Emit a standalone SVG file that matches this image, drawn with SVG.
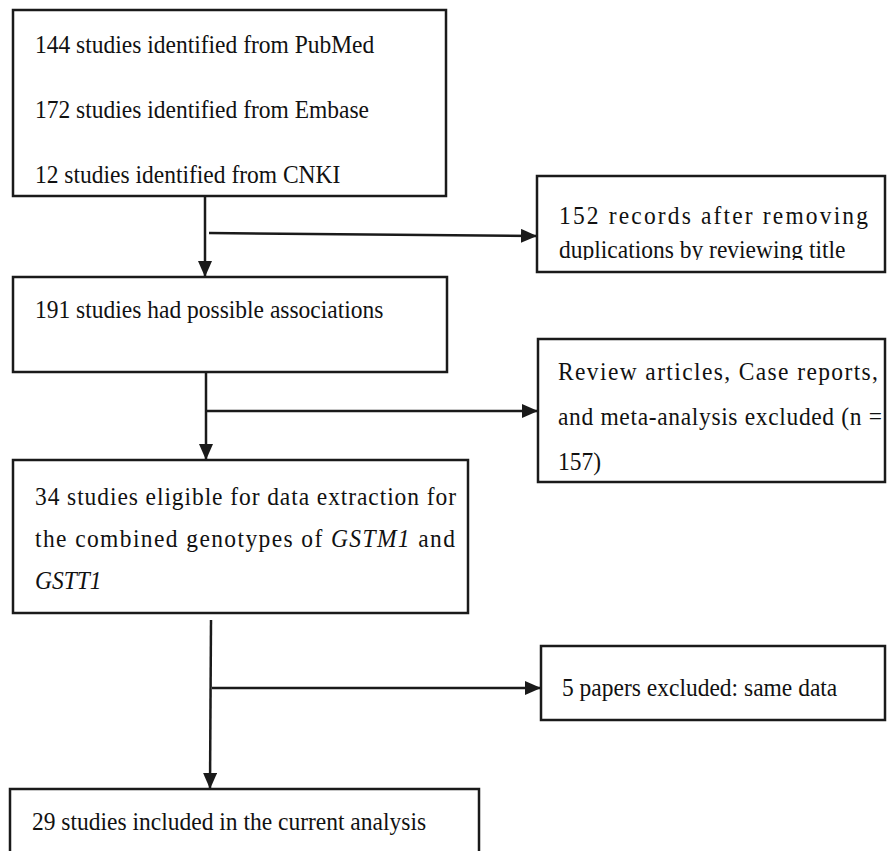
<svg xmlns="http://www.w3.org/2000/svg" width="887" height="851" viewBox="0 0 887 851">
<style>
.box{fill:#fff;stroke:#1a1a1a;stroke-width:2.5}
.t{font-family:"Liberation Serif","Times New Roman",serif;font-size:23.5px;fill:#111}
.c{stroke:#1a1a1a;stroke-width:2.5;fill:none}
</style>
<defs>
<marker id="ah" markerUnits="userSpaceOnUse" markerWidth="16" markerHeight="14" refX="16" refY="7" orient="auto">
<path d="M0,0 L16,7 L0,14 Z" fill="#1a1a1a"/>
</marker>
<clipPath id="clipB"><rect x="537" y="176" width="350" height="84"/></clipPath>
</defs>
<rect width="887" height="851" fill="#fff"/>
<g id="connectors">
<line class="c" x1="205" y1="196" x2="205" y2="277" marker-end="url(#ah)"/>
<line class="c" x1="209" y1="233" x2="537" y2="236" marker-end="url(#ah)"/>
<line class="c" x1="206" y1="372" x2="206" y2="460" marker-end="url(#ah)"/>
<line class="c" x1="207" y1="411" x2="538" y2="411" marker-end="url(#ah)"/>
<line class="c" x1="211" y1="620" x2="210" y2="789" marker-end="url(#ah)"/>
<line class="c" x1="212" y1="688" x2="541" y2="688" marker-end="url(#ah)"/>
</g>
<g id="node-sources">
<rect class="box" x="13" y="10" width="433" height="186"/>
<text class="t" transform="translate(35,53) scale(1,1.07)">144 studies identified from PubMed</text>
<text class="t" transform="translate(35,118) scale(1,1.07)">172 studies identified from Embase</text>
<text class="t" transform="translate(35,183) scale(1,1.07)">12 studies identified from CNKI</text>
</g>
<g id="node-duplicates">
<rect class="box" x="537" y="176" width="348" height="96"/>
<g clip-path="url(#clipB)">
<text class="t" transform="translate(559,224) scale(1,1.07)" textLength="309" lengthAdjust="spacing">152 records after removing</text>
<text class="t" transform="translate(559,258) scale(1,1.07)">duplications by reviewing title</text>
</g>
</g>
<g id="node-possible">
<rect class="box" x="13" y="277" width="434" height="95"/>
<text class="t" transform="translate(35,318) scale(1,1.07)">191 studies had possible associations</text>
</g>
<g id="node-excluded-review">
<rect class="box" x="538" y="339" width="347" height="143"/>
<text class="t" transform="translate(558,380) scale(1,1.07)" textLength="320" lengthAdjust="spacing">Review articles, Case reports,</text>
<text class="t" transform="translate(558,425) scale(1,1.07)" textLength="324" lengthAdjust="spacing">and meta-analysis excluded (n =</text>
<text class="t" transform="translate(558,470) scale(1,1.07)">157)</text>
</g>
<g id="node-eligible">
<rect class="box" x="13" y="460" width="455" height="153"/>
<text class="t" transform="translate(35,505) scale(1,1.07)" textLength="421" lengthAdjust="spacing">34 studies eligible for data extraction for</text>
<text class="t" transform="translate(35,547) scale(1,1.07)" textLength="420" lengthAdjust="spacing">the combined genotypes of <tspan font-style="italic">GSTM1</tspan> and</text>
<text class="t" transform="translate(35,589) scale(1,1.07)" font-style="italic">GSTT1</text>
</g>
<g id="node-same-data">
<rect class="box" x="541" y="646" width="344" height="74"/>
<text class="t" transform="translate(562,696) scale(1,1.07)">5 papers excluded: same data</text>
</g>
<g id="node-included">
<rect class="box" x="10" y="789" width="469" height="80"/>
<text class="t" transform="translate(32,830) scale(1,1.07)">29 studies included in the current analysis</text>
</g>
</svg>
